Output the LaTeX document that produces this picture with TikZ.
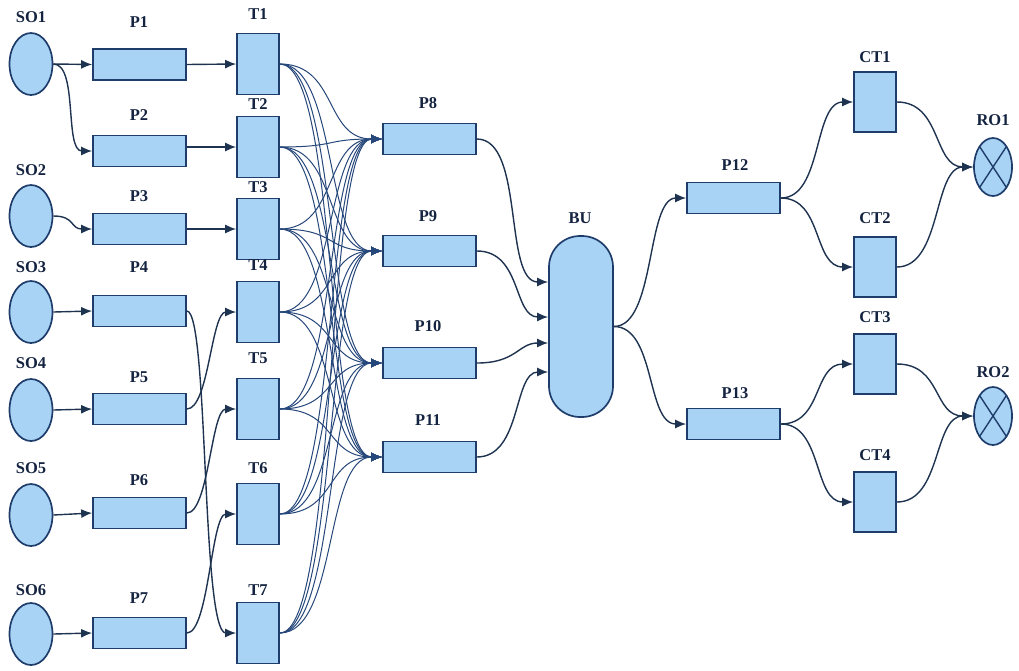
\documentclass[tikz,border=0pt]{standalone}
\usepackage{fontspec}
\setmainfont{Liberation Serif}
\usetikzlibrary{arrows.meta,shapes.geometric}
\definecolor{boxfill}{HTML}{A9D3F5}
\definecolor{boxline}{HTML}{1F3D6B}
\definecolor{wire}{HTML}{1E3350}
\definecolor{web}{HTML}{26477A}
\definecolor{ink}{HTML}{14233F}
\tikzset{
  base/.style={draw=boxline,fill=boxfill,line width=1.7pt,inner sep=0pt},
  src/.style={base,ellipse,minimum width=43pt,minimum height=62pt},
  sink/.style={base,ellipse,minimum width=38pt,minimum height=58pt,
    path picture={\draw[boxline,line width=1.4pt]
      (path picture bounding box.north west)--(path picture bounding box.south east)
      (path picture bounding box.north east)--(path picture bounding box.south west);}},
  place/.style={base,rectangle,minimum width=93pt,minimum height=31pt},
  trans/.style={base,rectangle,minimum width=42pt,minimum height=61pt},
  buffer/.style={base,rectangle,rounded corners=31pt,minimum width=64pt,minimum height=181pt},
  lab/.style={text=ink,font=\fontsize{16.5}{19}\selectfont\bfseries,inner sep=0pt},
  arc/.style={draw=wire,line width=1.4pt,-{Latex[length=11pt,width=9pt]}},
  webarc/.style={draw=web,line width=1pt,-{Latex[length=11pt,width=9pt]}},
}
\begin{document}
\begin{tikzpicture}[x=1pt,y=-1pt]
\useasboundingbox (0,0) rectangle (1019,670);

% sources
\foreach \n/\y in {1/64,2/216,3/312,4/410,5/515,6/634}
  \node[src] (SO\n) at (31,\y) {};
% input places
\foreach \n/\y in {1/64.5,2/151,3/229,4/311,5/409,6/513,7/633}
  \node[place] (P\n) at (139.5,\y) {};
% transitions
\foreach \n/\y in {1/64,2/147,3/229,4/312,5/409,6/514,7/633}
  \node[trans] (T\n) at (258,\y) {};
% intermediate places
\foreach \n/\y in {8/139,9/251,10/363,11/457}
  \node[place] (P\n) at (429.5,\y) {};
% buffer
\node[buffer] (BU) at (581,326.5) {};
% output places
\node[place] (P12) at (733.5,198) {};
\node[place] (P13) at (733.5,424) {};
% control transitions
\foreach \n/\y in {1/102,2/267,3/364,4/502}
  \node[trans,minimum height=60pt] (CT\n) at (875,\y) {};
% receivers
\node[sink] (RO1) at (993,167) {};
\node[sink] (RO2) at (993,416) {};

% labels
\foreach \n/\y in {1/17,2/170,3/267,4/363,5/468,6/590}
  \node[lab] (lSO\n) at (31,\y) {SO\n};
\foreach \n/\y in {1/22,2/115,3/196,4/267,5/377,6/480,7/598}
  \node[lab] (lP\n) at (139,\y) {P\n};
\foreach \n/\y in {1/14,2/104,3/187,4/265,5/358,6/468,7/590}
  \node[lab] (lT\n) at (258,\y) {T\n};
\foreach \n/\y in {8/103,9/216,10/326,11/420}
  \node[lab] (lP\n) at (428,\y) {P\n};
\node[lab] (lBU) at (580,218) {BU};
\node[lab] (lP12) at (735,165) {P12};
\node[lab] (lP13) at (735,393) {P13};
\foreach \n/\y in {1/57,2/218,3/317,4/455}
  \node[lab] (lCT\n) at (875,\y) {CT\n};
\node[lab] (lRO1) at (993,120) {RO1};
\node[lab] (lRO2) at (993,372) {RO2};

% sources to input places
\draw[arc] (SO1.east) -- (P1.west);
\draw[arc] (SO1.east) .. controls +(25,0) and +(-28,0) .. (P2.west);
\draw[arc] (SO2.east) .. controls +(22,0) and +(-22,0) .. (P3.west);
\draw[arc] (SO3.east) -- (P4.west);
\draw[arc] (SO4.east) -- (P5.west);
\draw[arc] (SO5.east) -- (P6.west);
\draw[arc] (SO6.east) -- (P7.west);

% input places to transitions
\draw[arc] (P1.east) -- (T1.west);
\draw[arc] (P2.east |- T2.west) -- (T2.west);
\draw[arc] (P3.east) -- (T3.west);
\draw[arc] (P4.east) .. controls +(22,0) and +(-35,0) .. (T7.west);
\draw[arc] (P5.east) .. controls +(22,0) and +(-25,0) .. (T4.west);
\draw[arc] (P6.east) .. controls +(22,0) and +(-25,0) .. (T5.west);
\draw[arc] (P7.east) .. controls +(22,0) and +(-25,0) .. (T6.west);

% every transition feeds every intermediate place
\foreach \t in {1,...,7}
  \foreach \p in {8,...,11}
    \draw[webarc] (T\t.east) .. controls +(58,0) and +(-58,0) .. (P\p.west);

% intermediate places into the buffer
\draw[arc] (P8.east)  .. controls +(48,0) and +(-45,0) .. ([yshift=44.5pt]BU.west);
\draw[arc] (P9.east)  .. controls +(45,0) and +(-35,0) .. ([yshift=9.5pt]BU.west);
\draw[arc] (P10.east) .. controls +(40,0) and +(-30,0) .. ([yshift=-16.5pt]BU.west);
\draw[arc] (P11.east) .. controls +(45,0) and +(-35,0) .. ([yshift=-45.5pt]BU.west);

% buffer out
\draw[arc] (BU.east) .. controls +(42,0) and +(-40,0) .. (P12.west);
\draw[arc] (BU.east) .. controls +(42,0) and +(-40,0) .. (P13.west);

% output places to control transitions
\draw[arc] (P12.east) .. controls +(42,0) and +(-40,0) .. (CT1.west);
\draw[arc] (P12.east) .. controls +(42,0) and +(-40,0) .. (CT2.west);
\draw[arc] (P13.east) .. controls +(42,0) and +(-40,0) .. (CT3.west);
\draw[arc] (P13.east) .. controls +(42,0) and +(-40,0) .. (CT4.west);

% control transitions to receivers
\draw[arc] (CT1.east) .. controls +(45,0) and +(-40,0) .. (RO1.west);
\draw[arc] (CT2.east) .. controls +(45,0) and +(-40,0) .. (RO1.west);
\draw[arc] (CT3.east) .. controls +(45,0) and +(-40,0) .. (RO2.west);
\draw[arc] (CT4.east) .. controls +(45,0) and +(-40,0) .. (RO2.west);
\end{tikzpicture}
\end{document}
